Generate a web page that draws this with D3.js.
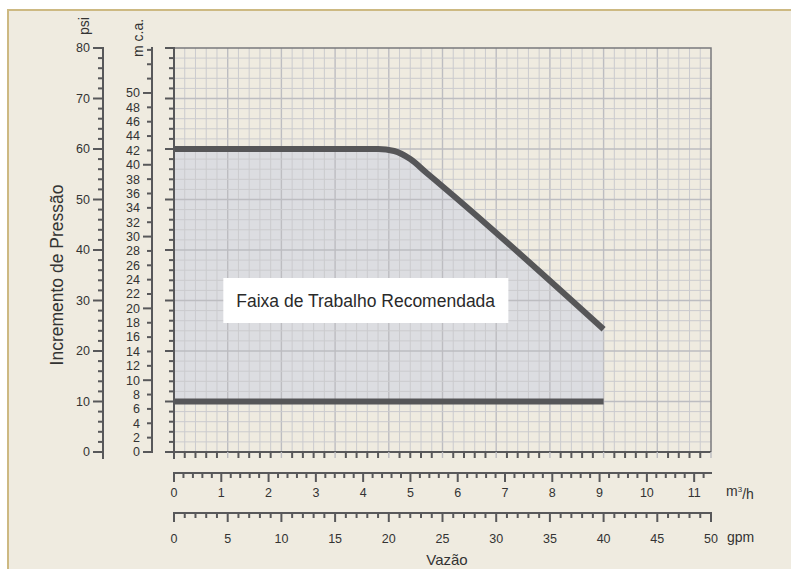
<!DOCTYPE html>
<html>
  <head>
    <meta charset="utf-8">
    <style>
      body { margin: 0; background: #fff; }
      text { font-family: "Liberation Sans", Arial, sans-serif; fill: #333; }
    </style>
    <script src="https://d3js.org/d3.v7.min.js"></script>
  </head>
  <body>
    <svg></svg>
    <script>
    // data
    var upperGpm = [0, 19, 20.5, 22, 23.5, 26, 40];
    var upperPsi = [60, 60, 59.6, 58, 55.3, 50.8, 24.3];
    var lowerGpm = [0, 40];
    var lowerPsi = [10, 10];
    var psiLabels = [0, 10, 20, 30, 40, 50, 60, 70, 80];
    var mcaLabels = [0, 2, 4, 6, 8, 10, 12, 14, 16, 18, 20, 22, 24, 26, 28, 30, 32, 34, 36, 38, 40, 42, 44, 46, 48, 50];
    var m3hLabels = [0, 1, 2, 3, 4, 5, 6, 7, 8, 9, 10, 11];
    var gpmLabels = [0, 5, 10, 15, 20, 25, 30, 35, 40, 45, 50];
    var areaLabel = "Faixa de Trabalho Recomendada";

    var PSI_PER_MCA = 1.4219;
    var GPM_PER_M3H = 4.4029;

    var width = 791, height = 569;
    var svg = d3.select("svg").attr("width", width).attr("height", height);

    // panel
    svg.append("rect").attr("x", 8).attr("y", 10).attr("width", width - 8).attr("height", height - 10)
        .attr("fill", "#efebe0");
    svg.append("path").attr("d", "M8,569V10H791").attr("fill", "none")
        .attr("stroke", "#cdb982").attr("stroke-width", 2);

    var x = d3.scaleLinear().domain([0, 50]).range([174, 711]);
    var y = d3.scaleLinear().domain([0, 80]).range([452, 48]);

    // recommended area
    var upper = upperGpm.map(function(g, i) { return [g, upperPsi[i]]; });
    var area = d3.area()
        .x(function(d) { return x(d[0]); })
        .y0(y(lowerPsi[0]))
        .y1(function(d) { return y(d[1]); })
        .curve(d3.curveMonotoneX);
    svg.append("path").datum(upper).attr("d", area).attr("fill", "#dcdde1");

    // grid
    var grid = svg.append("g");
    grid.selectAll(".vg").data(d3.range(1, 50)).enter().append("line")
        .attr("x1", function(d) { return x(d); }).attr("x2", function(d) { return x(d); })
        .attr("y1", y(80)).attr("y2", y(0))
        .attr("stroke", function(d) { return d % 5 == 0 ? "#bdbdc1" : "#cbcbce"; })
        .attr("stroke-width", function(d) { return d % 5 == 0 ? 1.4 : 1; });
    grid.selectAll(".hg").data(d3.range(2, 80, 2)).enter().append("line")
        .attr("y1", function(d) { return y(d); }).attr("y2", function(d) { return y(d); })
        .attr("x1", x(0)).attr("x2", x(50))
        .attr("stroke", function(d) { return d % 10 == 0 ? "#bdbdc1" : "#cbcbce"; })
        .attr("stroke-width", function(d) { return d % 10 == 0 ? 1.4 : 1; });

    // plot frame (top / right)
    svg.append("path").attr("d", "M" + x(0) + "," + y(80) + "H" + x(50) + "V" + y(0))
        .attr("fill", "none").attr("stroke", "#7a7a7c").attr("stroke-width", 1.5);

    var line = d3.line()
        .x(function(d) { return x(d[0]); })
        .y(function(d) { return y(d[1]); })
        .curve(d3.curveMonotoneX);
    svg.append("path").datum(upper).attr("d", line)
        .attr("fill", "none").attr("stroke", "#565658").attr("stroke-width", 6);
    svg.append("path").datum(lowerGpm.map(function(g, i) { return [g, lowerPsi[i]]; }))
        .attr("d", line).attr("fill", "none").attr("stroke", "#565658").attr("stroke-width", 6);

    // label box
    var lbl = svg.append("g");
    var lblRect = lbl.append("rect").attr("fill", "#fff");
    var lblText = lbl.append("text").attr("x", x(17.85)).attr("y", y(30)).attr("dy", "0.35em")
        .attr("text-anchor", "middle").style("font-size", "17.5px").style("fill", "#2a2a2a")
        .text(areaLabel);
    var bb = lblText.node().getBBox();
    lblRect.attr("x", bb.x - 13).attr("width", bb.width + 26)
        .attr("y", y(30) - 22.5).attr("height", 45);

    var axisColor = "#58585a";

    // plot left axis
    svg.append("line").attr("x1", x(0)).attr("x2", x(0)).attr("y1", y(80) - 1).attr("y2", y(0) + 7)
        .attr("stroke", axisColor).attr("stroke-width", 2);
    svg.selectAll(".lt").data(d3.range(0, 81, 2)).enter().append("line")
        .attr("y1", function(d) { return y(d); }).attr("y2", function(d) { return y(d); })
        .attr("x1", function(d) { return x(0) - (d % 10 == 0 ? 9 : 5); }).attr("x2", x(0))
        .attr("stroke", axisColor).attr("stroke-width", 2);
    // plot bottom axis
    svg.append("line").attr("x1", x(0) - 9).attr("x2", x(50)).attr("y1", y(0)).attr("y2", y(0))
        .attr("stroke", axisColor).attr("stroke-width", 2);
    svg.selectAll(".bt").data(d3.range(1, 51)).enter().append("line")
        .attr("x1", function(d) { return x(d); }).attr("x2", function(d) { return x(d); })
        .attr("y1", y(0)).attr("y2", y(0) + 6)
        .attr("stroke", function(d) { return d % 5 == 0 ? "#bdbdc1" : axisColor; })
        .attr("stroke-width", function(d) { return d % 5 == 0 ? 1.4 : 2; });

    // psi axis
    var psiX = 103;
    svg.append("line").attr("x1", psiX).attr("x2", psiX).attr("y1", y(80) - 1).attr("y2", y(0) + 7)
        .attr("stroke", axisColor).attr("stroke-width", 2);
    svg.selectAll(".pt").data(d3.range(0, 81, 2)).enter().append("line")
        .attr("y1", function(d) { return y(d); }).attr("y2", function(d) { return y(d); })
        .attr("x1", function(d) { return psiX - (d % 10 == 0 ? 10 : 5); }).attr("x2", psiX)
        .attr("stroke", axisColor).attr("stroke-width", 2);
    svg.selectAll(".pl").data(psiLabels).enter().append("text")
        .attr("x", psiX - 13).attr("y", function(d) { return y(d); }).attr("dy", "0.35em")
        .attr("text-anchor", "end").style("font-size", "12.5px").text(function(d) { return d; });

    // m c.a. axis
    var mcaX = 152;
    var ym = function(m) { return y(m * PSI_PER_MCA); };
    svg.append("line").attr("x1", mcaX).attr("x2", mcaX).attr("y1", y(80) - 1).attr("y2", y(0) + 1)
        .attr("stroke", axisColor).attr("stroke-width", 2);
    svg.selectAll(".mt").data(d3.range(0, 57, 2)).enter().append("line")
        .attr("y1", function(d) { return ym(d); }).attr("y2", function(d) { return ym(d); })
        .attr("x1", function(d) { return mcaX - (d % 10 == 0 ? 9 : 5); }).attr("x2", mcaX)
        .attr("stroke", axisColor).attr("stroke-width", 2);
    svg.selectAll(".ml").data(mcaLabels).enter().append("text")
        .attr("x", mcaX - 12).attr("y", function(d) { return ym(d); }).attr("dy", "0.35em")
        .attr("text-anchor", "end").style("font-size", "12.5px").text(function(d) { return d; });

    // unit labels (vertical)
    svg.append("text").attr("transform", "translate(89,35) rotate(-90)")
        .style("font-size", "14px").text("psi");
    svg.append("text").attr("transform", "translate(143,57) rotate(-90)")
        .style("font-size", "14px").text("m c.a.");
    svg.append("text").attr("transform", "translate(63,275) rotate(-90)")
        .attr("text-anchor", "middle").style("font-size", "17.5px").text("Incremento de Pressão");

    // m3/h axis
    var m3Y = 473;
    var xm = function(v) { return x(v * GPM_PER_M3H); };
    svg.append("line").attr("x1", x(0) - 1).attr("x2", x(50) + 1).attr("y1", m3Y).attr("y2", m3Y)
        .attr("stroke", axisColor).attr("stroke-width", 2);
    svg.selectAll(".m3t").data(d3.range(0, 57).map(function(i) { return i * 0.2; })).enter().append("line")
        .attr("x1", function(d) { return xm(d); }).attr("x2", function(d) { return xm(d); })
        .attr("y1", m3Y).attr("y2", function(d, i) { return m3Y + (i % 5 == 0 ? 9 : 5); })
        .attr("stroke", axisColor).attr("stroke-width", 2);
    svg.selectAll(".m3l").data(m3hLabels).enter().append("text")
        .attr("x", function(d) { return xm(d); }).attr("y", 493).attr("dy", "0.35em")
        .attr("text-anchor", "middle").style("font-size", "12.5px").text(function(d) { return d; });
    var unitM3 = svg.append("text").attr("x", 726).attr("y", 491).attr("dy", "0.35em")
        .style("font-size", "14px");
    unitM3.append("tspan").text("m");
    unitM3.append("tspan").attr("dy", "-0.45em").style("font-size", "8px").text("3");
    unitM3.append("tspan").attr("dy", "0.45em").text("/h");

    // gpm axis
    var gY = 513;
    svg.append("line").attr("x1", x(0) - 1).attr("x2", x(50) + 1).attr("y1", gY).attr("y2", gY)
        .attr("stroke", axisColor).attr("stroke-width", 2);
    svg.selectAll(".gt").data(d3.range(0, 51)).enter().append("line")
        .attr("x1", function(d) { return x(d); }).attr("x2", function(d) { return x(d); })
        .attr("y1", gY).attr("y2", function(d) { return gY + (d % 5 == 0 ? 9 : 5); })
        .attr("stroke", axisColor).attr("stroke-width", 2);
    svg.selectAll(".gl").data(gpmLabels).enter().append("text")
        .attr("x", function(d) { return x(d); }).attr("y", 539).attr("dy", "0.35em")
        .attr("text-anchor", "middle").style("font-size", "12.5px").text(function(d) { return d; });
    svg.append("text").attr("x", 727).attr("y", 537).attr("dy", "0.35em")
        .style("font-size", "14px").text("gpm");

    svg.append("text").attr("x", 447).attr("y", 560).attr("dy", "0.35em")
        .attr("text-anchor", "middle").style("font-size", "15px").text("Vazão");
    </script>
  </body>
</html>
